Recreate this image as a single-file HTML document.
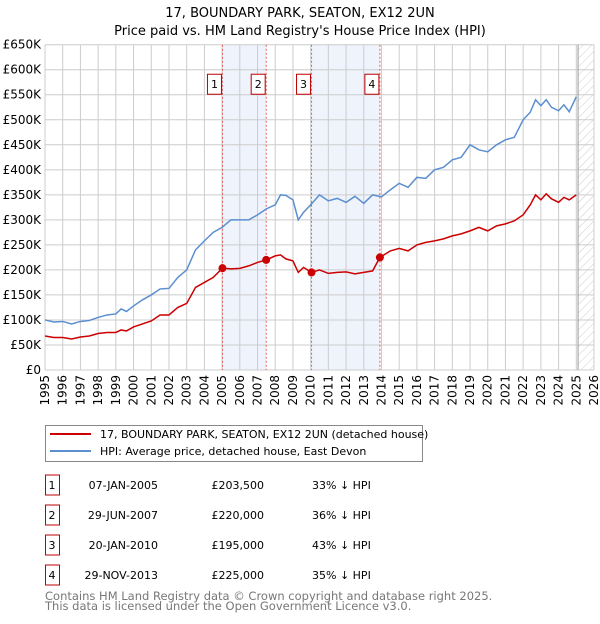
<!DOCTYPE html>
<html><head><meta charset="utf-8"><style>
body{margin:0;background:#fff;width:600px;height:620px;overflow:hidden;font-family:"DejaVu Sans","Liberation Sans",sans-serif}
svg text{font-family:"DejaVu Sans","Liberation Sans",sans-serif}
</style></head><body>
<svg id="chart" width="600" height="620" xmlns="http://www.w3.org/2000/svg">
<defs><pattern id="hatch" width="6" height="6" patternUnits="userSpaceOnUse" patternTransform="rotate(45)"><line x1="0" y1="0" x2="0" y2="6" stroke="#ccc" stroke-width="1"/></pattern></defs>
<text x="300" y="17" text-anchor="middle" font-size="13">17, BOUNDARY PARK, SEATON, EX12 2UN</text>
<text x="300" y="35" text-anchor="middle" font-size="13">Price paid vs. HM Land Registry's House Price Index (HPI)</text>
<g id="plot"></g>
<g>
<rect x="45.5" y="425.5" width="377" height="36" fill="#fff" stroke="#888"/>
<line x1="50" y1="434" x2="91" y2="434" stroke="#cc0000" stroke-width="2"/>
<text x="100" y="438" font-size="11">17, BOUNDARY PARK, SEATON, EX12 2UN (detached house)</text>
<line x1="50" y1="451" x2="91" y2="451" stroke="#5b8fd0" stroke-width="2"/>
<text x="100" y="455" font-size="11">HPI: Average price, detached house, East Devon</text>
</g>
<g id="table"></g>
<text x="45" y="600" font-size="11.5" fill="#777">Contains HM Land Registry data © Crown copyright and database right 2025.</text>
<text x="45" y="610" font-size="11.5" fill="#777">This data is licensed under the Open Government Licence v3.0.</text>
</svg>
<script>
const hpiYears=[1995,1995.5,1996,1996.5,1997,1997.5,1998,1998.5,1999,1999.3,1999.6,2000,2000.5,2001,2001.5,2002,2002.5,2003,2003.5,2004,2004.5,2005,2005.5,2006,2006.5,2007,2007.5,2008,2008.3,2008.6,2009,2009.3,2009.6,2010,2010.5,2011,2011.5,2012,2012.5,2013,2013.5,2014,2014.5,2015,2015.5,2016,2016.5,2017,2017.5,2018,2018.5,2019,2019.5,2020,2020.5,2021,2021.5,2022,2022.4,2022.7,2023,2023.3,2023.6,2024,2024.3,2024.6,2025];
const hpiValues=[100,96,97,92,97,99,105,110,112,122,117,128,140,150,162,163,185,200,240,258,275,285,300,300,300,310,322,330,350,349,340,300,315,330,350,338,343,335,347,333,350,346,360,373,365,385,383,400,405,420,425,450,440,436,450,460,465,500,515,540,528,540,525,518,530,516,546];
const salesYears=[1995,1995.5,1996,1996.5,1997,1997.5,1998,1998.5,1999,1999.3,1999.6,2000,2000.5,2001,2001.5,2002,2002.5,2003,2003.5,2004,2004.5,2005.02,2005.5,2006,2006.5,2007,2007.49,2008,2008.3,2008.6,2009,2009.3,2009.6,2010.05,2010.5,2011,2011.5,2012,2012.5,2013,2013.5,2013.91,2014.5,2015,2015.5,2016,2016.5,2017,2017.5,2018,2018.5,2019,2019.5,2020,2020.5,2021,2021.5,2022,2022.4,2022.7,2023,2023.3,2023.6,2024,2024.3,2024.6,2025];
const salesValues=[68,65,65,62,66,68,73,75,75,80,78,86,92,98,110,110,125,133,165,175,185,203.5,202,203,208,215,220,228,230,222,218,195,205,195,200,193,195,196,192,195,198,225,238,243,238,250,255,258,262,268,272,278,285,278,288,292,298,310,330,350,340,352,342,335,345,340,350];
const saleDates=[2005.02,2007.49,2010.05,2013.91];
const salePrices=[203.5,220,195,225];
const saleLabels=["1","2","3","4"];
const saleDateText=["07-JAN-2005","29-JUN-2007","20-JAN-2010","29-NOV-2013"];
const salePriceText=["£203,500","£220,000","£195,000","£225,000"];
const saleHpiText=["33% ↓ HPI","36% ↓ HPI","43% ↓ HPI","35% ↓ HPI"];
const yTicks=[0,50,100,150,200,250,300,350,400,450,500,550,600,650];
const yTickLabels=["£0","£50K","£100K","£150K","£200K","£250K","£300K","£350K","£400K","£450K","£500K","£550K","£600K","£650K"];
const xTicks=[1995,1996,1997,1998,1999,2000,2001,2002,2003,2004,2005,2006,2007,2008,2009,2010,2011,2012,2013,2014,2015,2016,2017,2018,2019,2020,2021,2022,2023,2024,2025,2026];
const NS="http://www.w3.org/2000/svg";
const L=45,R=594,T=44.7,B=370;
const x=v=>L+(v-1995)/(2026-1995)*(R-L);
const y=v=>B-v/650*(B-T);
const plot=document.getElementById('plot');
function mk(tag,attrs,parent){const e=document.createElementNS(NS,tag);for(const k in attrs)e.setAttribute(k,attrs[k]);(parent||plot).appendChild(e);return e;}
// shading between sales
for(let i=0;i<saleDates.length;i+=2){
 const r=mk('rect',{x:x(saleDates[i]),y:T,width:x(saleDates[i+1])-x(saleDates[i]),height:B-T,fill:'#eef3fc'});
 
 
}
// hatch future
const hz=mk('rect',{x:x(2025.1),y:T,width:R-x(2025.1),height:B-T,fill:'url(#hatch)'});


// grid
yTicks.forEach((t,i)=>{
 const g=mk('line',{x1:L,x2:R,y1:y(t),y2:y(t),stroke:'#ccc','stroke-width':1});
 
 
 const tx=mk('text',{x:L-4,y:y(t)+4,'text-anchor':'end','font-size':12});
 tx.textContent=yTickLabels[i];
 
 
});
xTicks.forEach(t=>{
 const g=mk('line',{x1:x(t),x2:x(t),y1:T,y2:B,stroke:'#ccc','stroke-width':1});
 
 
 const tx=mk('text',{transform:`translate(${x(t)+4},${B+5}) rotate(-90)`,'text-anchor':'end','font-size':12});
 tx.textContent=t;
 
 
});
const nowLine=mk('line',{x1:x(2025.1),x2:x(2025.1),y1:T,y2:B,stroke:'#999','stroke-width':1});


// sale vlines and labels
saleDates.forEach((d,i)=>{
 const v=mk('line',{x1:x(d),x2:x(d),y1:T,y2:B,stroke:'#e06060','stroke-width':1,'stroke-dasharray':'2,2'});
 
 
 const b=mk('rect',{x:x(d)-15,y:y(575)-8,width:14,height:20,fill:'#fff',stroke:'#b00','stroke-width':1});
 
 
 const t=mk('text',{x:x(d)-8,y:y(575)+6,'text-anchor':'middle','font-size':11});
 t.textContent=saleLabels[i];
 
 
});
const hp=mk('polyline',{points:hpiYears.map((t,i)=>x(t)+','+y(hpiValues[i])).join(' '),fill:'none',stroke:'#5b8fd0','stroke-width':1.5});


const sp=mk('polyline',{points:salesYears.map((t,i)=>x(t)+','+y(salesValues[i])).join(' '),fill:'none',stroke:'#cc0000','stroke-width':1.5});


saleDates.forEach((d,i)=>{
 const c=mk('circle',{cx:x(d),cy:y(salePrices[i]),r:4,fill:'#cc0000'});
 
 
});
// table
const tb=document.getElementById('table');
saleLabels.forEach((lab,i)=>{
 const cy=485+i*30;
 const b=mk('rect',{x:45.5,y:cy-10,width:14,height:20,fill:'#fff',stroke:'#b00'},tb);
 
 
 const vals=[[lab,52,'middle'],[saleDateText[i],158,'end'],[salePriceText[i],264,'end'],[saleHpiText[i],312,'start']];
 vals.forEach(([s,xx,a])=>{
  const t=mk('text',{x:xx,y:cy+4,'text-anchor':a,'font-size':11},tb);
  t.textContent=s;
  
  
 });
});
</script>
</body></html>
